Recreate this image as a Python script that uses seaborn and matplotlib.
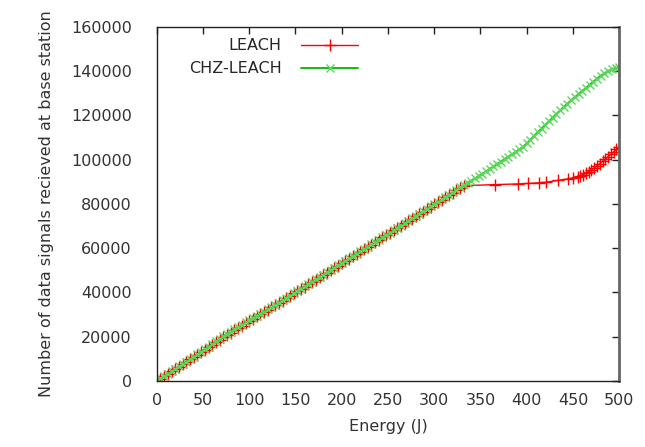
import matplotlib
matplotlib.use("Agg")
import matplotlib.pyplot as plt
import seaborn as sns

# Energy (J) axis points for each protocol
chz_energy = list(range(0, 501, 4))
chz_signals = [
    0, 1100, 2200, 3300, 4300, 5400, 6500, 7600, 8700, 9800,
    11000, 12100, 13200, 14400, 15500, 16700, 17800, 19000, 20100, 21200,
    22300, 23400, 24400, 25400, 26400, 27300, 28300, 29300, 30300, 31300,
    32300, 33300, 34300, 35400, 36400, 37500, 38500, 39600, 40600, 41700,
    42700, 43800, 44800, 45900, 46900, 48000, 49000, 50100, 51100, 52200,
    53200, 54300, 55300, 56400, 57400, 58500, 59600, 60600, 61700, 62700,
    63800, 64900, 65900, 67000, 68100, 69100, 70200, 71300, 72300, 73400,
    74500, 75500, 76600, 77700, 78800, 79800, 80900, 82000, 83100, 84100,
    85200, 86300, 87400, 88400, 89500, 90500, 91600, 92500, 93600, 94700,
    95800, 96900, 98000, 99100, 100200, 101300, 102400, 103500, 104600, 105800,
    107300, 109000, 110700, 112400, 114000, 115700, 117300, 119000, 120600, 122200,
    123800, 125300, 126800, 128200, 129600, 131000, 132400, 133800, 135200, 136600,
    137900, 139000, 140000, 140800, 141300, 141900,
]

leach_energy = list(range(0, 333, 4)) + [
    366, 391, 401, 413, 421, 434, 445, 450, 455, 458, 461, 464,
    467, 470, 473, 476, 479, 482, 485, 488, 491, 494, 497, 500,
]
leach_signals = [
    0, 1000, 2100, 3200, 4300, 5300, 6400, 7500, 8600, 9700,
    10800, 11900, 13000, 14100, 15200, 16300, 17400, 18500, 19600, 20700,
    21800, 22900, 24000, 25000, 26100, 27100, 28100, 29100, 30100, 31200,
    32200, 33200, 34200, 35300, 36300, 37400, 38400, 39500, 40500, 41600,
    42600, 43700, 44700, 45800, 46800, 47900, 48900, 50000, 51000, 52100,
    53100, 54200, 55200, 56300, 57300, 58400, 59500, 60500, 61600, 62600,
    63700, 64800, 65800, 66900, 68000, 69000, 70100, 71200, 72200, 73300,
    74400, 75400, 76500, 77600, 78700, 79700, 80800, 81900, 83000, 84000,
    85100, 86200, 87300, 88200,
    88700, 89000, 89200, 89500, 89800, 90600, 91300, 91700, 92300, 92700, 93200, 93800,
    94600, 95400, 96300, 97200, 98200, 99200, 100200, 101300, 102400, 103500, 104700, 105900,
]

x_ticks = [0, 50, 100, 150, 200, 250, 300, 350, 400, 450, 500]
y_ticks = [0, 20000, 40000, 60000, 80000, 100000, 120000, 140000, 160000]

sns.set_style("white")
plt.rcParams["font.family"] = ["DejaVu Sans"]
plt.rcParams["font.size"] = 11.5

fig = plt.figure(figsize=(6.45, 4.47), dpi=100)
ax = fig.add_axes([0.243, 0.148, 0.717, 0.792])

sns.lineplot(x=leach_energy, y=leach_signals, color="#ff0000", marker="+",
             markersize=8, markeredgewidth=1, markeredgecolor="#ff0000",
             linewidth=1, label="LEACH", ax=ax)
sns.lineplot(x=chz_energy, y=chz_signals, color="#00b800", marker="x",
             markersize=6, markeredgewidth=1, markeredgecolor="#5cd65c",
             linewidth=1.3, label="CHZ-LEACH", ax=ax)

ax.set_xlim(0, 500)
ax.set_ylim(0, 160000)
ax.set_xticks(x_ticks)
ax.set_yticks(y_ticks)
ax.set_xticklabels([str(t) for t in x_ticks], color="#333333")
ax.set_yticklabels([str(t) for t in y_ticks], color="#333333")
ax.tick_params(direction="in", top=True, right=True, length=5, width=1,
               color="#222222")
ax.tick_params(axis="x", pad=9)
ax.tick_params(axis="y", pad=18)
for s in ax.spines.values():
    s.set_color("#222222")
    s.set_linewidth(1)
ax.spines["right"].set_color("#666666")
ax.spines["right"].set_linewidth(2)

ax.set_xlabel("Energy (J)", color="#333333", labelpad=8)
ax.set_ylabel("Number of data signals recieved at base station", color="#333333",
              labelpad=12)

ax.legend(loc="upper right", bbox_to_anchor=(0.457, 0.995), frameon=False,
          markerfirst=False, handlelength=3.6, handletextpad=1.2,
          labelspacing=0.5, borderaxespad=0.2, fontsize=11.5)

plt.savefig("out.png", dpi=100)
